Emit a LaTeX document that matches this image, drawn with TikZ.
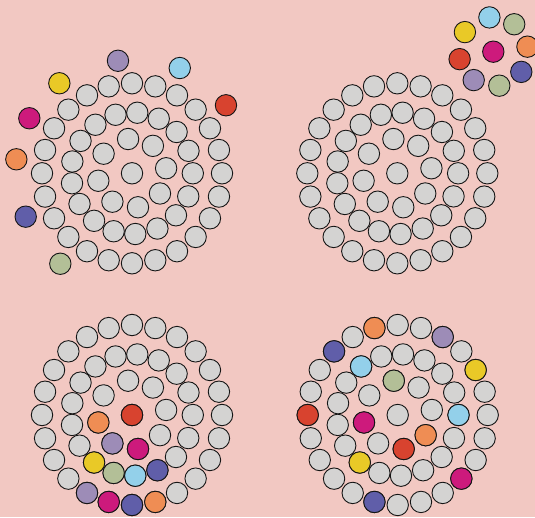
\documentclass[tikz,border=0pt]{standalone}
\usetikzlibrary{calc}

\begin{document}
\begin{tikzpicture}[x=1pt, y=1pt,
    disc/.style={draw=borderColour, line width=0.9pt}]
    % Define colors
    \definecolor{borderColour}{HTML}{151515}
    \definecolor{backColour}{HTML}{F2C8C2}
    \definecolor{discGrey}{HTML}{D4D3D2}
    \definecolor{discYellow}{HTML}{E9C927}
    \definecolor{discSky}{HTML}{93D0EA}
    \definecolor{discSage}{HTML}{B3BF97}
    \definecolor{discMagenta}{HTML}{CD1A7C}
    \definecolor{discOrange}{HTML}{EF8D54}
    \definecolor{discRed}{HTML}{D8432F}
    \definecolor{discBlue}{HTML}{605EA9}
    \definecolor{discPurple}{HTML}{9D8CB7}

    % Define disc radius and ring radii
    \def\discRadius{10.7pt}
    \def\ringOne{34.5}
    \def\ringTwo{60.8}
    \def\ringThree{90}
    \def\anglesOne{8.4,52.7,96.5,145.4,192.5,235.4,280,324.2}
    \def\anglesTwo{0,21.7,42.8,63.9,85,105.7,127,147.8,168.8,189.4,210.3,231.4,252.4,273.1,294.7,316.3,337.7}

    % Background
    \fill[backColour] (0,0) rectangle (535,517);
    \useasboundingbox (0,0) rectangle (535,517);

    % Centres of the four packings
    \coordinate (TL) at (132,343.7);
    \coordinate (TR) at (397.3,343.7);
    \coordinate (BL) at (132,102);
    \coordinate (BR) at (397.7,102);
    \coordinate (Loose) at (493.3,465.3);

    % Draw grey packings
    \foreach \p in {TL,TR,BL,BR} {
        \begin{scope}[shift={(\p)}]
            \filldraw[disc, fill=discGrey] (0,0) circle (\discRadius);
            \foreach \a in \anglesOne
                \filldraw[disc, fill=discGrey] (\a:\ringOne) circle (\discRadius);
            \foreach \a in \anglesTwo
                \filldraw[disc, fill=discGrey] (\a:\ringTwo) circle (\discRadius);
            \foreach \k in {0,...,23}
                \filldraw[disc, fill=discGrey] (\k*15:\ringThree) circle (\discRadius);
        \end{scope}
    }

    % Coloured discs waiting outside the top left packing
    \begin{scope}[shift={(TL)}]
        \foreach \a/\r/\c in {97.1/113.4/discPurple, 65.6/115.6/discSky,
                35.9/116/discRed, 128.9/115.7/discYellow,
                151.8/116.5/discMagenta, 173.1/116.5/discOrange,
                202.2/114.8/discBlue, 231.6/115.4/discSage}
            \filldraw[disc, fill=\c] (\a:\r) circle (\discRadius);
    \end{scope}

    % Loose cluster in the top right corner
    \begin{scope}[shift={(Loose)}]
        \filldraw[disc, fill=discMagenta] (0,0) circle (\discRadius);
        \foreach \a/\c in {8.4/discOrange, 52.7/discSage, 96.5/discSky,
                145.4/discYellow, 192.5/discRed, 235.4/discPurple,
                280/discSage, 324.2/discBlue}
            \filldraw[disc, fill=\c] (\a:\ringOne) circle (\discRadius);
    \end{scope}

    % Coloured discs packed at the bottom left
    \begin{scope}[shift={(BL)}]
        \filldraw[disc, fill=discRed] (0,0) circle (\discRadius);
        \foreach \a/\c in {192.5/discOrange, 235.4/discPurple, 280/discMagenta}
            \filldraw[disc, fill=\c] (\a:\ringOne) circle (\discRadius);
        \foreach \a/\c in {231.4/discYellow, 252.4/discSage, 273.1/discSky, 294.7/discBlue}
            \filldraw[disc, fill=\c] (\a:\ringTwo) circle (\discRadius);
        \foreach \a/\c in {240/discPurple, 255/discMagenta, 270/discBlue, 285/discOrange}
            \filldraw[disc, fill=\c] (\a:\ringThree) circle (\discRadius);
    \end{scope}

    % Coloured discs spread at the bottom right
    \begin{scope}[shift={(BR)}]
        \foreach \a/\c in {96.5/discSage, 192.5/discMagenta, 280/discRed, 324.2/discOrange}
            \filldraw[disc, fill=\c] (\a:\ringOne) circle (\discRadius);
        \foreach \a/\c in {0/discSky, 127/discSky, 231.4/discYellow}
            \filldraw[disc, fill=\c] (\a:\ringTwo) circle (\discRadius);
        \foreach \a/\c in {30/discYellow, 60/discPurple, 105/discOrange, 135/discBlue,
                180/discRed, 255/discBlue, 315/discMagenta}
            \filldraw[disc, fill=\c] (\a:\ringThree) circle (\discRadius);
    \end{scope}

\end{tikzpicture}
\end{document}
